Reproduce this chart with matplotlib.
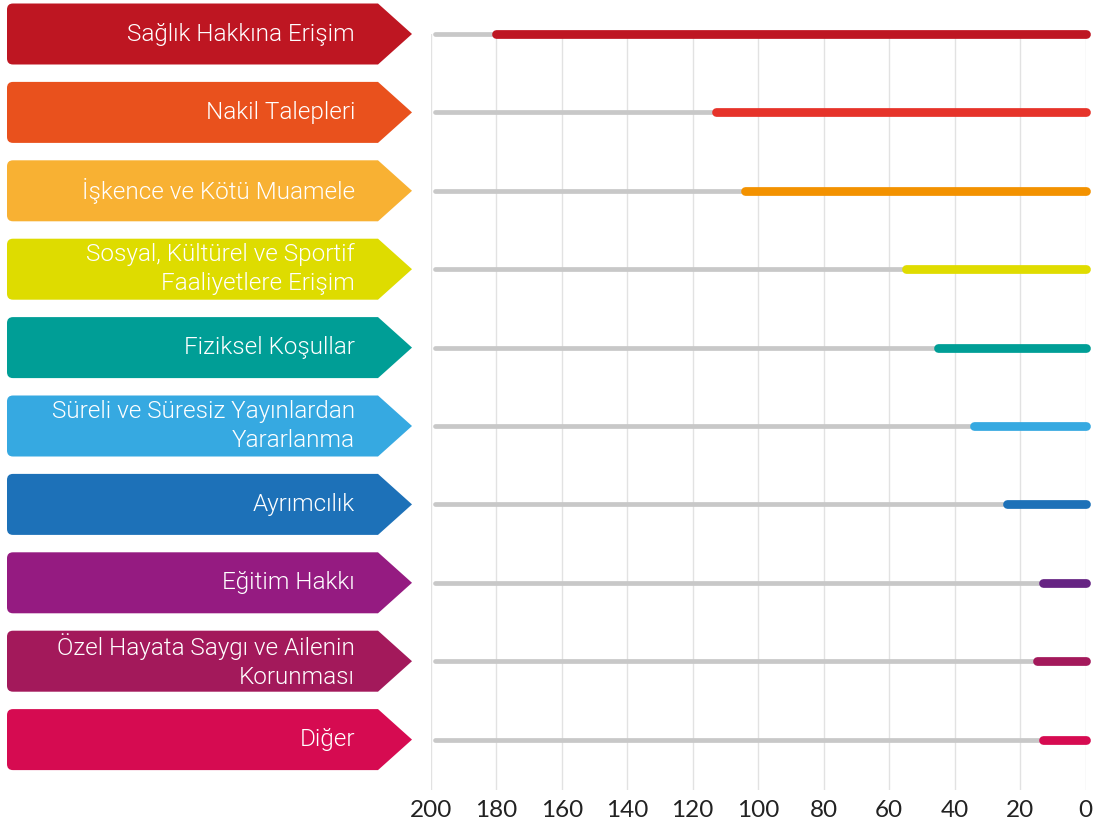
import matplotlib.pyplot as plt
from matplotlib.path import Path
from matplotlib.patches import PathPatch

# Data
categories = [
    "Sağlık Hakkına Erişim",
    "Nakil Talepleri",
    "İşkence ve Kötü Muamele",
    "Sosyal, Kültürel ve Sportif\nFaaliyetlere Erişim",
    "Fiziksel Koşullar",
    "Süreli ve Süresiz Yayınlardan\nYararlanma",
    "Ayrımcılık",
    "Eğitim Hakkı",
    "Özel Hayata Saygı ve Ailenin\nKorunması",
    "Diğer",
]
values = [180, 113, 104, 55, 45, 34, 24, 13, 15, 13]
label_colors = ["#BE1622", "#E9511D", "#F8B133", "#DEDC00", "#009E96",
                "#36A9E1", "#1D71B8", "#951B81", "#A3195B", "#D60B51"]
line_colors = ["#BE1622", "#E6332A", "#F39200", "#E0DC00", "#009E96",
               "#36A9E1", "#1D71B8", "#662483", "#A3195B", "#D60B51"]
x_max = 200
x_ticks = [200, 180, 160, 140, 120, 100, 80, 60, 40, 20, 0]

W, H = 1094, 826
fig = plt.figure(figsize=(W / 100, H / 100), dpi=100)

# vertical layout in pixels
row_top = 34      # pixel y of first row
row_step = 78.4   # pixel spacing between rows
ax_bottom_px = 790
y_lo = (ax_bottom_px - row_top) / row_step
ax_h = (ax_bottom_px - row_top) / H
ax_b = 1 - ax_bottom_px / H

# main chart
ax = fig.add_axes([430.7 / W, ax_b, (1085.7 - 430.7) / W, ax_h])
ax.set_xlim(x_max, 0)
ax.set_ylim(y_lo, 0)
for i, (v, c) in enumerate(zip(values, line_colors)):
    ax.plot([x_max - 1.2, v], [i, i], color="#C8C8C8", lw=3.4,
            solid_capstyle="round", clip_on=False, zorder=2)
    ax.plot([v, 0], [i, i], color=c, lw=6.3,
            solid_capstyle="round", clip_on=False, zorder=3)
ax.set_xticks(x_ticks)
ax.set_xticklabels([str(t) for t in x_ticks], fontsize=17.5, color="#222222",
                   family=["Lato", "DejaVu Sans"])
ax.set_yticks([])
ax.tick_params(axis="x", length=0, pad=7)
ax.grid(axis="x", color="#E2E2E2", lw=1, zorder=0)
for s in ax.spines.values():
    s.set_visible(False)

# label arrows, same vertical mapping, x in pixels
lab = fig.add_axes([0, ax_b, 420 / W, ax_h])
lab.set_xlim(0, 420)
lab.set_ylim(y_lo, 0)
lab.axis("off")
half = 30.5 / row_step
r = 6
ry = r / row_step
left, body_end, tip_x = 7, 378, 412
for i, (name, c) in enumerate(zip(categories, label_colors)):
    top, bot = i - half, i + half
    verts = [(left + r, top), (body_end, top), (tip_x, i), (body_end, bot),
             (left + r, bot), (left, bot), (left, bot - ry),
             (left, top + ry), (left, top), (left + r, top), (left + r, top)]
    codes = [Path.MOVETO, Path.LINETO, Path.LINETO, Path.LINETO,
             Path.LINETO, Path.CURVE3, Path.CURVE3,
             Path.LINETO, Path.CURVE3, Path.CURVE3, Path.CLOSEPOLY]
    lab.add_patch(PathPatch(Path(verts, codes), fc=c, ec="none",
                            clip_on=False))
    lab.text(355, i, name, ha="right", va="center", color="white",
             fontsize=17.5, fontweight=300, linespacing=1.3,
             family=["Roboto", "DejaVu Sans"])

fig.savefig("out.png", dpi=100)
